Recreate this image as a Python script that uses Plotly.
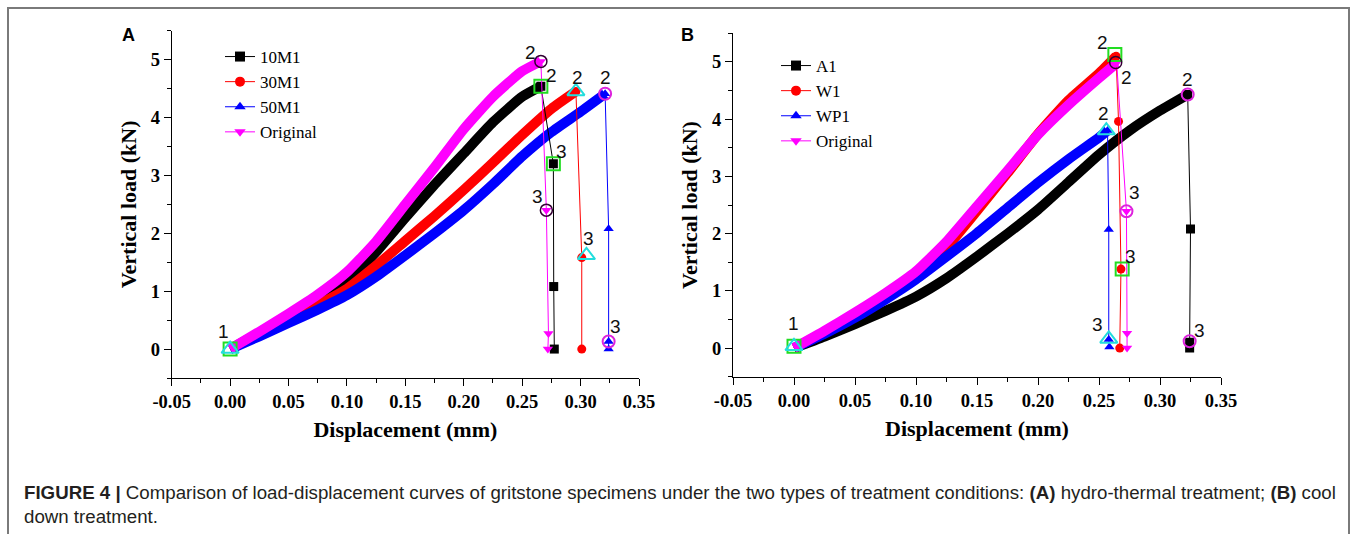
import plotly.graph_objects as go

# ---------------- Panel A data (hydro-thermal) ----------------
a_names = ["10M1", "30M1", "50M1", "Original"]
a_curve_x = [
    [0, 0.025, 0.05, 0.075, 0.10, 0.125, 0.15, 0.175, 0.20, 0.225, 0.25, 0.266],
    [0, 0.025, 0.05, 0.075, 0.10, 0.125, 0.15, 0.175, 0.20, 0.225, 0.25, 0.275, 0.296],
    [0, 0.025, 0.05, 0.075, 0.10, 0.125, 0.15, 0.175, 0.20, 0.225, 0.25, 0.275, 0.30, 0.321],
    [0, 0.025, 0.05, 0.075, 0.10, 0.125, 0.15, 0.175, 0.20, 0.225, 0.25, 0.266],
]
a_curve_y = [
    [0, 0.28, 0.56, 0.84, 1.16, 1.68, 2.27, 2.84, 3.38, 3.92, 4.36, 4.54],
    [0, 0.25, 0.50, 0.76, 1.04, 1.44, 1.87, 2.30, 2.75, 3.22, 3.70, 4.15, 4.45],
    [0, 0.22, 0.45, 0.68, 0.93, 1.25, 1.62, 2.00, 2.40, 2.85, 3.33, 3.75, 4.10, 4.41],
    [0, 0.30, 0.61, 0.94, 1.33, 1.86, 2.50, 3.14, 3.80, 4.36, 4.80, 4.97],
]
a_drop_x = [
    [0.266, 0.2767, 0.277, 0.2775],
    [0.296, 0.301, 0.301],
    [0.321, 0.324, 0.324, 0.324],
    [0.266, 0.2707, 0.2725, 0.272],
]
a_drop_y = [
    [4.54, 3.20, 1.08, 0.0],
    [4.45, 1.58, 0.0],
    [4.41, 2.08, 0.13, 0.0],
    [4.97, 2.40, 0.27, 0.0],
]

# ---------------- Panel B data (cool down) ----------------
b_names = ["A1", "W1", "WP1", "Original"]
b_curve_x = [
    [0, 0.025, 0.05, 0.075, 0.10, 0.125, 0.15, 0.175, 0.20, 0.225, 0.25, 0.275, 0.30, 0.3227],
    [0, 0.025, 0.05, 0.075, 0.10, 0.125, 0.15, 0.175, 0.20, 0.225, 0.25, 0.264],
    [0, 0.025, 0.05, 0.075, 0.10, 0.125, 0.15, 0.175, 0.20, 0.225, 0.25, 0.257],
    [0, 0.025, 0.05, 0.075, 0.10, 0.125, 0.15, 0.175, 0.20, 0.225, 0.25, 0.2645],
]
b_curve_y = [
    [0, 0.20, 0.42, 0.65, 0.90, 1.22, 1.60, 2.00, 2.42, 2.90, 3.38, 3.80, 4.15, 4.43],
    [0, 0.28, 0.58, 0.92, 1.29, 1.76, 2.40, 3.06, 3.74, 4.33, 4.80, 5.10],
    [0, 0.25, 0.53, 0.85, 1.20, 1.60, 2.01, 2.45, 2.89, 3.30, 3.68, 3.80],
    [0, 0.30, 0.62, 0.96, 1.34, 1.86, 2.48, 3.10, 3.73, 4.25, 4.72, 4.98],
]
b_drop_x = [
    [0.3227, 0.325, 0.3243, 0.3243],
    [0.264, 0.266, 0.268, 0.267],
    [0.257, 0.258, 0.258, 0.2585],
    [0.2645, 0.2725, 0.273, 0.273],
]
b_drop_y = [
    [4.43, 2.08, 0.10, 0.0],
    [5.10, 3.96, 1.38, 0.0],
    [3.80, 2.07, 0.15, 0.02],
    [4.98, 2.39, 0.26, 0.0],
]

# stage labels ("1","2","3") and their highlight markers
a_lab_text = ["1", "2", "2", "2", "2", "3", "3", "3", "3"]
a_lab_x = [-0.006, 0.257, 0.2755, 0.297, 0.321, 0.2835, 0.263, 0.3068, 0.330]
a_lab_y = [0.30, 5.12, 4.73, 4.70, 4.70, 3.42, 2.64, 1.91, 0.39]
b_lab_text = ["1", "2", "2", "2", "2", "3", "3", "3", "3"]
b_lab_x = [-0.0004, 0.253, 0.2727, 0.254, 0.3227, 0.2795, 0.2757, 0.249, 0.332]
b_lab_y = [0.43, 5.34, 4.73, 4.10, 4.70, 2.71, 1.60, 0.41, 0.31]

a_hl_sq_x = [0.0, 0.266, 0.2767]
a_hl_sq_y = [0.0, 4.54, 3.20]
a_hl_tri_x = [0.0, 0.296, 0.305]
a_hl_tri_y = [0.0, 4.45, 1.62]
a_hl_circ_x = [0.321, 0.324]
a_hl_circ_y = [4.41, 0.13]
a_hl_dark_x = [0.266, 0.2707]
a_hl_dark_y = [4.97, 2.40]

b_hl_sq_x = [0.0, 0.263, 0.269]
b_hl_sq_y = [0.03, 5.13, 1.38]
b_hl_tri_x = [0.0, 0.256, 0.258]
b_hl_tri_y = [0.03, 3.80, 0.16]
b_hl_circ_x = [0.3227, 0.3243, 0.2725]
b_hl_circ_y = [4.43, 0.12, 2.39]
b_hl_dark_x = [0.2637]
b_hl_dark_y = [4.99]

x_ticks = [-0.05, 0.0, 0.05, 0.10, 0.15, 0.20, 0.25, 0.30, 0.35]
x_tick_text = ["-0.05", "0.00", "0.05", "0.10", "0.15", "0.20", "0.25", "0.30", "0.35"]
y_ticks = [0, 1, 2, 3, 4, 5]

colors = ["#000000", "#ff0000", "#0000ff", "#ff00ff"]
symbols = ["square", "circle", "triangle-up", "triangle-down"]

W, H = 1357, 534
SERIF = "Liberation Serif"
SANS = "Liberation Sans"

fig = go.Figure()


def add_panel(names, cx, cy, dx, dy, xa, ya, legend_name):
    # thick dense curves
    for i in range(4):
        fig.add_trace(go.Scatter(x=cx[i], y=cy[i], mode="lines", xaxis=xa, yaxis=ya,
                                 line=dict(color=colors[i], width=10, shape="spline", smoothing=0.5),
                                 showlegend=False, hoverinfo="skip"))
    # thin failure drops with markers
    for i in range(4):
        fig.add_trace(go.Scatter(x=dx[i], y=dy[i], mode="lines+markers", xaxis=xa, yaxis=ya,
                                 line=dict(color=colors[i], width=1),
                                 marker=dict(symbol=symbols[i], size=9, color=colors[i]),
                                 showlegend=False, hoverinfo="skip"))
    # legend entries
    for i in range(4):
        fig.add_trace(go.Scatter(x=[None], y=[None], mode="lines+markers", xaxis=xa, yaxis=ya,
                                 name=names[i], legend=legend_name,
                                 line=dict(color=colors[i], width=1),
                                 marker=dict(symbol=symbols[i], size=10, color=colors[i])))


def add_highlights(sqx, sqy, trx, try_, cix, ciy, dkx, dky, xa, ya):
    fig.add_trace(go.Scatter(x=sqx, y=sqy, mode="markers", xaxis=xa, yaxis=ya, showlegend=False,
                             marker=dict(symbol="square-open", size=13, color="#22dd22",
                                         line=dict(width=2)), hoverinfo="skip"))
    fig.add_trace(go.Scatter(x=trx, y=try_, mode="markers", xaxis=xa, yaxis=ya, showlegend=False,
                             marker=dict(symbol="triangle-up-open", size=15, color="#22dddd",
                                         line=dict(width=2)), hoverinfo="skip"))
    fig.add_trace(go.Scatter(x=cix, y=ciy, mode="markers", xaxis=xa, yaxis=ya, showlegend=False,
                             marker=dict(symbol="circle-open", size=12, color="#dd22dd",
                                         line=dict(width=2)), hoverinfo="skip"))
    fig.add_trace(go.Scatter(x=dkx, y=dky, mode="markers", xaxis=xa, yaxis=ya, showlegend=False,
                             marker=dict(symbol="circle-open", size=12, color="#330033",
                                         line=dict(width=1.5)), hoverinfo="skip"))


add_panel(a_names, a_curve_x, a_curve_y, a_drop_x, a_drop_y, "x", "y", "legend")
add_highlights(a_hl_sq_x, a_hl_sq_y, a_hl_tri_x, a_hl_tri_y, a_hl_circ_x, a_hl_circ_y,
               a_hl_dark_x, a_hl_dark_y, "x", "y")
add_panel(b_names, b_curve_x, b_curve_y, b_drop_x, b_drop_y, "x2", "y2", "legend2")
add_highlights(b_hl_sq_x, b_hl_sq_y, b_hl_tri_x, b_hl_tri_y, b_hl_circ_x, b_hl_circ_y,
               b_hl_dark_x, b_hl_dark_y, "x2", "y2")

annotations = []
for t, x, y in zip(a_lab_text, a_lab_x, a_lab_y):
    annotations.append(dict(text=t, x=x, y=y, xref="x", yref="y", showarrow=False,
                            font=dict(family=SANS, size=19, color="#111111")))
for t, x, y in zip(b_lab_text, b_lab_x, b_lab_y):
    annotations.append(dict(text=t, x=x, y=y, xref="x2", yref="y2", showarrow=False,
                            font=dict(family=SANS, size=19, color="#111111")))


def px_x(p):
    return p / W


def px_y(p):
    return 1 - p / H


# panel letters
annotations.append(dict(text="<b>A</b>", x=px_x(128), y=px_y(35), xref="paper", yref="paper",
                        xanchor="center", yanchor="middle",
                        showarrow=False, font=dict(family=SANS, size=18, color="#000")))
annotations.append(dict(text="<b>B</b>", x=px_x(687), y=px_y(35), xref="paper", yref="paper",
                        xanchor="center", yanchor="middle",
                        showarrow=False, font=dict(family=SANS, size=18, color="#000")))
# caption
annotations.append(dict(
    text="<b>FIGURE 4 |</b> Comparison of load-displacement curves of gritstone specimens under the two types of treatment conditions: <b>(A)</b> hydro-thermal treatment; <b>(B)</b> cool",
    x=px_x(22), y=px_y(492), xref="paper", yref="paper", xanchor="left", yanchor="middle",
    showarrow=False, font=dict(family=SANS, size=18.7, color="#231f20")))
annotations.append(dict(
    text="down treatment.",
    x=px_x(22), y=px_y(516), xref="paper", yref="paper", xanchor="left", yanchor="middle",
    showarrow=False, font=dict(family=SANS, size=18.7, color="#231f20")))

axis_common = dict(
    showline=True, linecolor="#000", linewidth=1, showgrid=False, zeroline=False,
    automargin=False,
    ticks="outside", ticklen=7, tickcolor="#000", tickwidth=1,
    tickfont=dict(family=SERIF, size=18.5, color="#000", weight="bold"),
)

xa_common = dict(axis_common, range=[-0.05, 0.35], tickvals=x_ticks, ticktext=x_tick_text,
                 minor=dict(dtick=0.025, tick0=0, ticklen=4, tickcolor="#000", ticks="outside"),
                 title=dict(text="Displacement (mm)", standoff=10,
                            font=dict(family=SERIF, size=22, color="#000", weight="bold")))
ya_common = dict(axis_common, range=[-0.5, 5.5], tickvals=y_ticks,
                 minor=dict(dtick=0.5, tick0=0, ticklen=4, tickcolor="#000", ticks="outside"),
                 title=dict(text="Vertical load (kN)", standoff=8,
                            font=dict(family=SERIF, size=22, color="#000", weight="bold")))

fig.update_layout(
    width=W, height=H, margin=dict(l=0, r=0, t=0, b=0, autoexpand=False),
    paper_bgcolor="white", plot_bgcolor="white",
    xaxis=dict(xa_common, domain=[171.7 / W, 639 / W], anchor="y"),
    yaxis=dict(ya_common, domain=[1 - 378 / H, 1 - 30.7 / H], anchor="x"),
    xaxis2=dict(xa_common, domain=[733 / W, 1221 / W], anchor="y2"),
    yaxis2=dict(ya_common, domain=[1 - 376.7 / H, 1 - 33.3 / H], anchor="x2"),
    legend=dict(x=px_x(220), y=px_y(39), xanchor="left", yanchor="top",
                bgcolor="rgba(0,0,0,0)", font=dict(family=SERIF, size=17, color="#000"),
                tracegroupgap=0),
    legend2=dict(x=px_x(776), y=px_y(48), xanchor="left", yanchor="top",
                 bgcolor="rgba(0,0,0,0)", font=dict(family=SERIF, size=17, color="#000"),
                 tracegroupgap=0),
    annotations=annotations,
    shapes=[dict(type="rect", xref="paper", yref="paper", x0=px_x(8), x1=px_x(1349),
                 y0=px_y(545), y1=px_y(8), line=dict(color="#7a7a7a", width=2),
                 fillcolor="rgba(0,0,0,0)", layer="below")],
    showlegend=True,
)

fig.write_html("out.html")
